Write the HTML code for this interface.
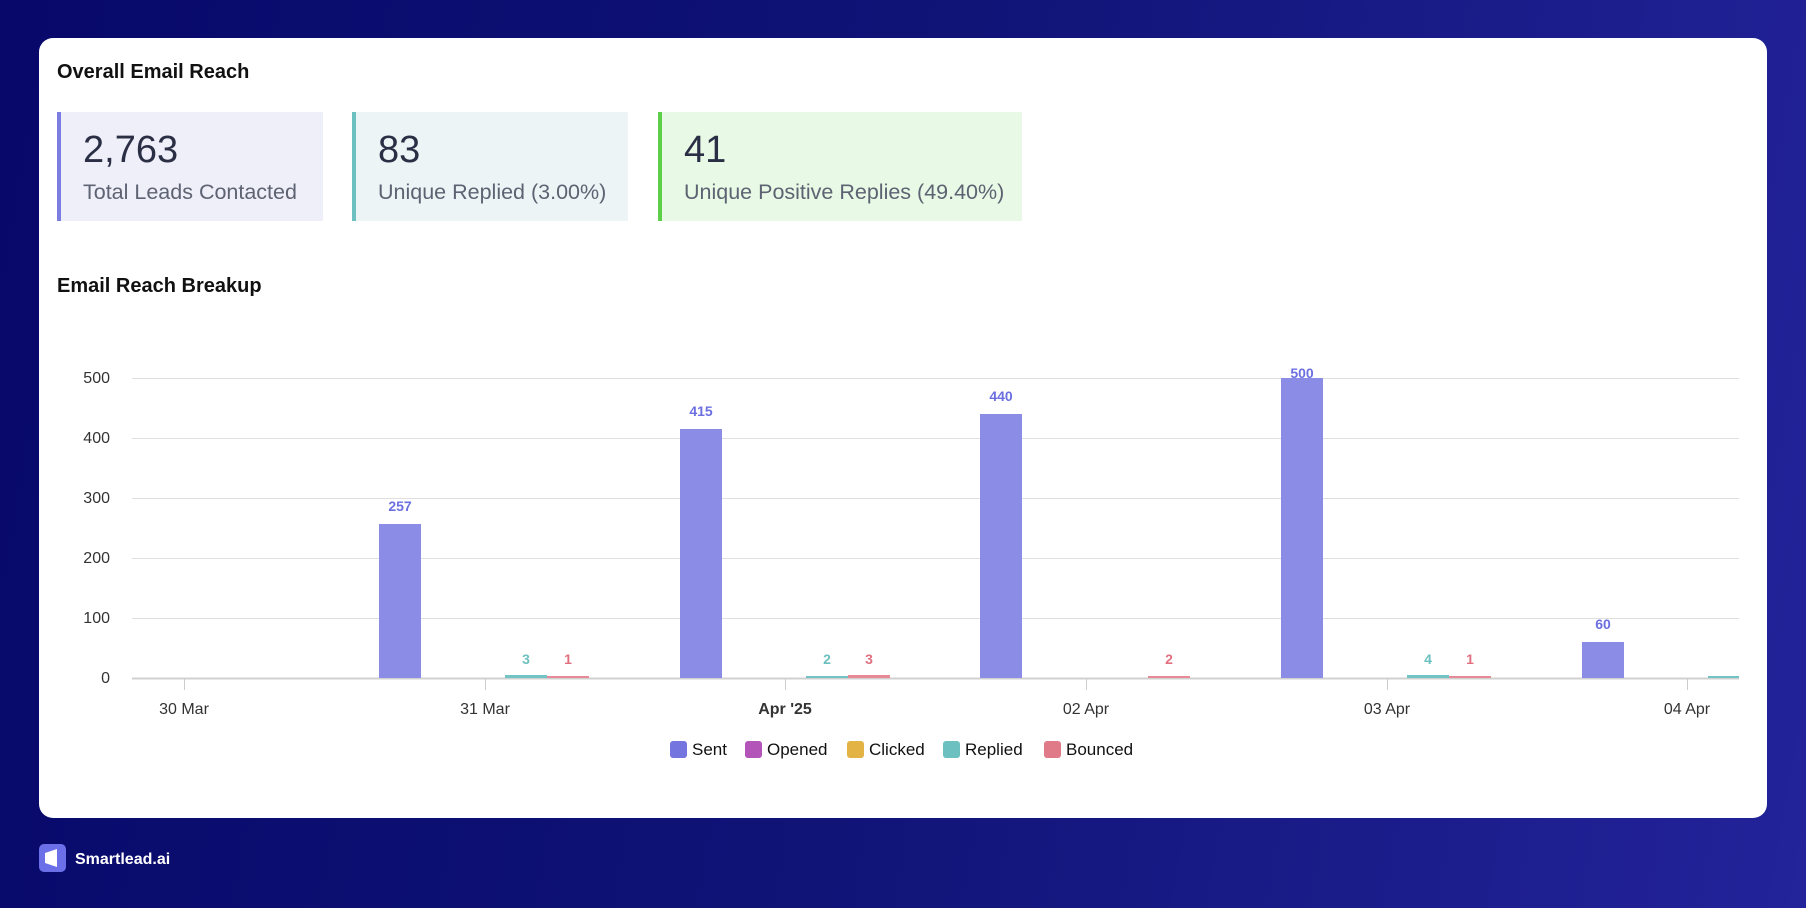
<!DOCTYPE html>
<html><head><meta charset="utf-8"><style>
html,body{margin:0;padding:0;width:1806px;height:908px;overflow:hidden;}
body{background:linear-gradient(100deg,#07086a 0%,#101477 50%,#23239a 100%);font-family:"Liberation Sans",sans-serif;position:relative;}
.card{position:absolute;left:39px;top:38px;width:1728px;height:780px;background:#fff;border-radius:14px;}
.h{position:absolute;font-weight:bold;font-size:20px;color:#111;}
.box{position:absolute;top:112px;height:109px;border-left:4px solid;box-sizing:border-box;}
.box .n{position:absolute;left:22px;top:17px;font-size:38px;color:#2b2f45;}
.box .l{position:absolute;left:22px;top:68px;font-size:21.5px;color:#5d6372;white-space:nowrap;}
svg{position:absolute;left:0;top:0;}
</style></head><body>
<div class="card"></div>
<div class="h" style="left:57px;top:61px;">Overall Email Reach</div>
<div class="box" style="left:57px;width:266px;background:#efeff9;border-color:#7b7de0;"><div class="n">2,763</div><div class="l">Total Leads Contacted</div></div>
<div class="box" style="left:352px;width:276px;background:#ecf4f5;border-color:#6cc0bf;"><div class="n">83</div><div class="l">Unique Replied (3.00%)</div></div>
<div class="box" style="left:658px;width:364px;background:#e8f9e6;border-color:#5dd04a;"><div class="n">41</div><div class="l">Unique Positive Replies (49.40%)</div></div>
<div class="h" style="left:57px;top:275px;">Email Reach Breakup</div>
<svg width="1806" height="908" font-family="Liberation Sans, sans-serif">
<g stroke="#e0e0e0" stroke-width="1">
<line x1="132" x2="1739" y1="378.5" y2="378.5"/><line x1="132" x2="1739" y1="438.5" y2="438.5"/><line x1="132" x2="1739" y1="498.5" y2="498.5"/><line x1="132" x2="1739" y1="558.5" y2="558.5"/><line x1="132" x2="1739" y1="618.5" y2="618.5"/>
</g>
<line x1="132" x2="1739" y1="678.5" y2="678.5" stroke="#d0d0d0" stroke-width="2"/>
<g stroke="#ccc"><line x1="184.5" x2="184.5" y1="679" y2="690"/><line x1="485.5" x2="485.5" y1="679" y2="690"/><line x1="785.5" x2="785.5" y1="679" y2="690"/><line x1="1086.5" x2="1086.5" y1="679" y2="690"/><line x1="1387.5" x2="1387.5" y1="679" y2="690"/><line x1="1687.5" x2="1687.5" y1="679" y2="690"/></g>
<g font-size="16" fill="#333" text-anchor="middle">
<text x="184" y="714">30 Mar</text><text x="485" y="714">31 Mar</text><text x="785" y="714" font-weight="bold">Apr '25</text><text x="1086" y="714">02 Apr</text><text x="1387" y="714">03 Apr</text><text x="1687" y="714">04 Apr</text>
</g>
<g font-size="16" fill="#333" text-anchor="end">
<text x="110" y="383">500</text><text x="110" y="443">400</text><text x="110" y="503">300</text><text x="110" y="563">200</text><text x="110" y="623">100</text><text x="110" y="683">0</text>
</g>
<g fill="#8a8ce6">
<rect x="379" y="524" width="42" height="154"/><rect x="680" y="429" width="42" height="249"/><rect x="980" y="414" width="42" height="264"/><rect x="1281" y="378" width="42" height="300"/><rect x="1582" y="642" width="42" height="36"/>
</g>
<g fill="#72c3c3"><rect x="505" y="675" width="42" height="3"/><rect x="806" y="676" width="42" height="2"/><rect x="1407" y="675" width="42" height="3"/><rect x="1708" y="676" width="31" height="2"/></g>
<g fill="#e88a95"><rect x="547" y="676" width="42" height="2"/><rect x="848" y="675" width="42" height="3"/><rect x="1148" y="676" width="42" height="2"/><rect x="1449" y="676" width="42" height="2"/></g>
<g font-size="14" font-weight="bold" text-anchor="middle">
<text x="400" y="511" fill="#6b6fe0">257</text><text x="701" y="416" fill="#6b6fe0">415</text><text x="1001" y="401" fill="#6b6fe0">440</text><text x="1302" y="378" fill="#6b6fe0">500</text><text x="1603" y="629" fill="#6b6fe0">60</text>
<text x="526" y="664" fill="#6cc0bf">3</text><text x="568" y="664" fill="#e07080">1</text>
<text x="827" y="664" fill="#6cc0bf">2</text><text x="869" y="664" fill="#e07080">3</text>
<text x="1169" y="664" fill="#e07080">2</text>
<text x="1428" y="664" fill="#6cc0bf">4</text><text x="1470" y="664" fill="#e07080">1</text>
</g>
<g font-size="17" fill="#111">
<rect x="670" y="741" width="17" height="17" rx="3" fill="#7475de"/><text x="692" y="755">Sent</text>
<rect x="745" y="741" width="17" height="17" rx="3" fill="#b354b8"/><text x="767" y="755">Opened</text>
<rect x="847" y="741" width="17" height="17" rx="3" fill="#e4b346"/><text x="869" y="755">Clicked</text>
<rect x="943" y="741" width="17" height="17" rx="3" fill="#6cc0bf"/><text x="965" y="755">Replied</text>
<rect x="1044" y="741" width="17" height="17" rx="3" fill="#e07a88"/><text x="1066" y="755">Bounced</text>
</g>
<rect x="39" y="844" width="27" height="28" rx="5" fill="#6b6fe8"/>
<path d="M45 853 L57 849 L57 867 L45 863 Z" fill="#fff"/>
<text x="75" y="864" font-size="16" font-weight="bold" fill="#fff">Smartlead.ai</text>
</svg>
</body></html>
